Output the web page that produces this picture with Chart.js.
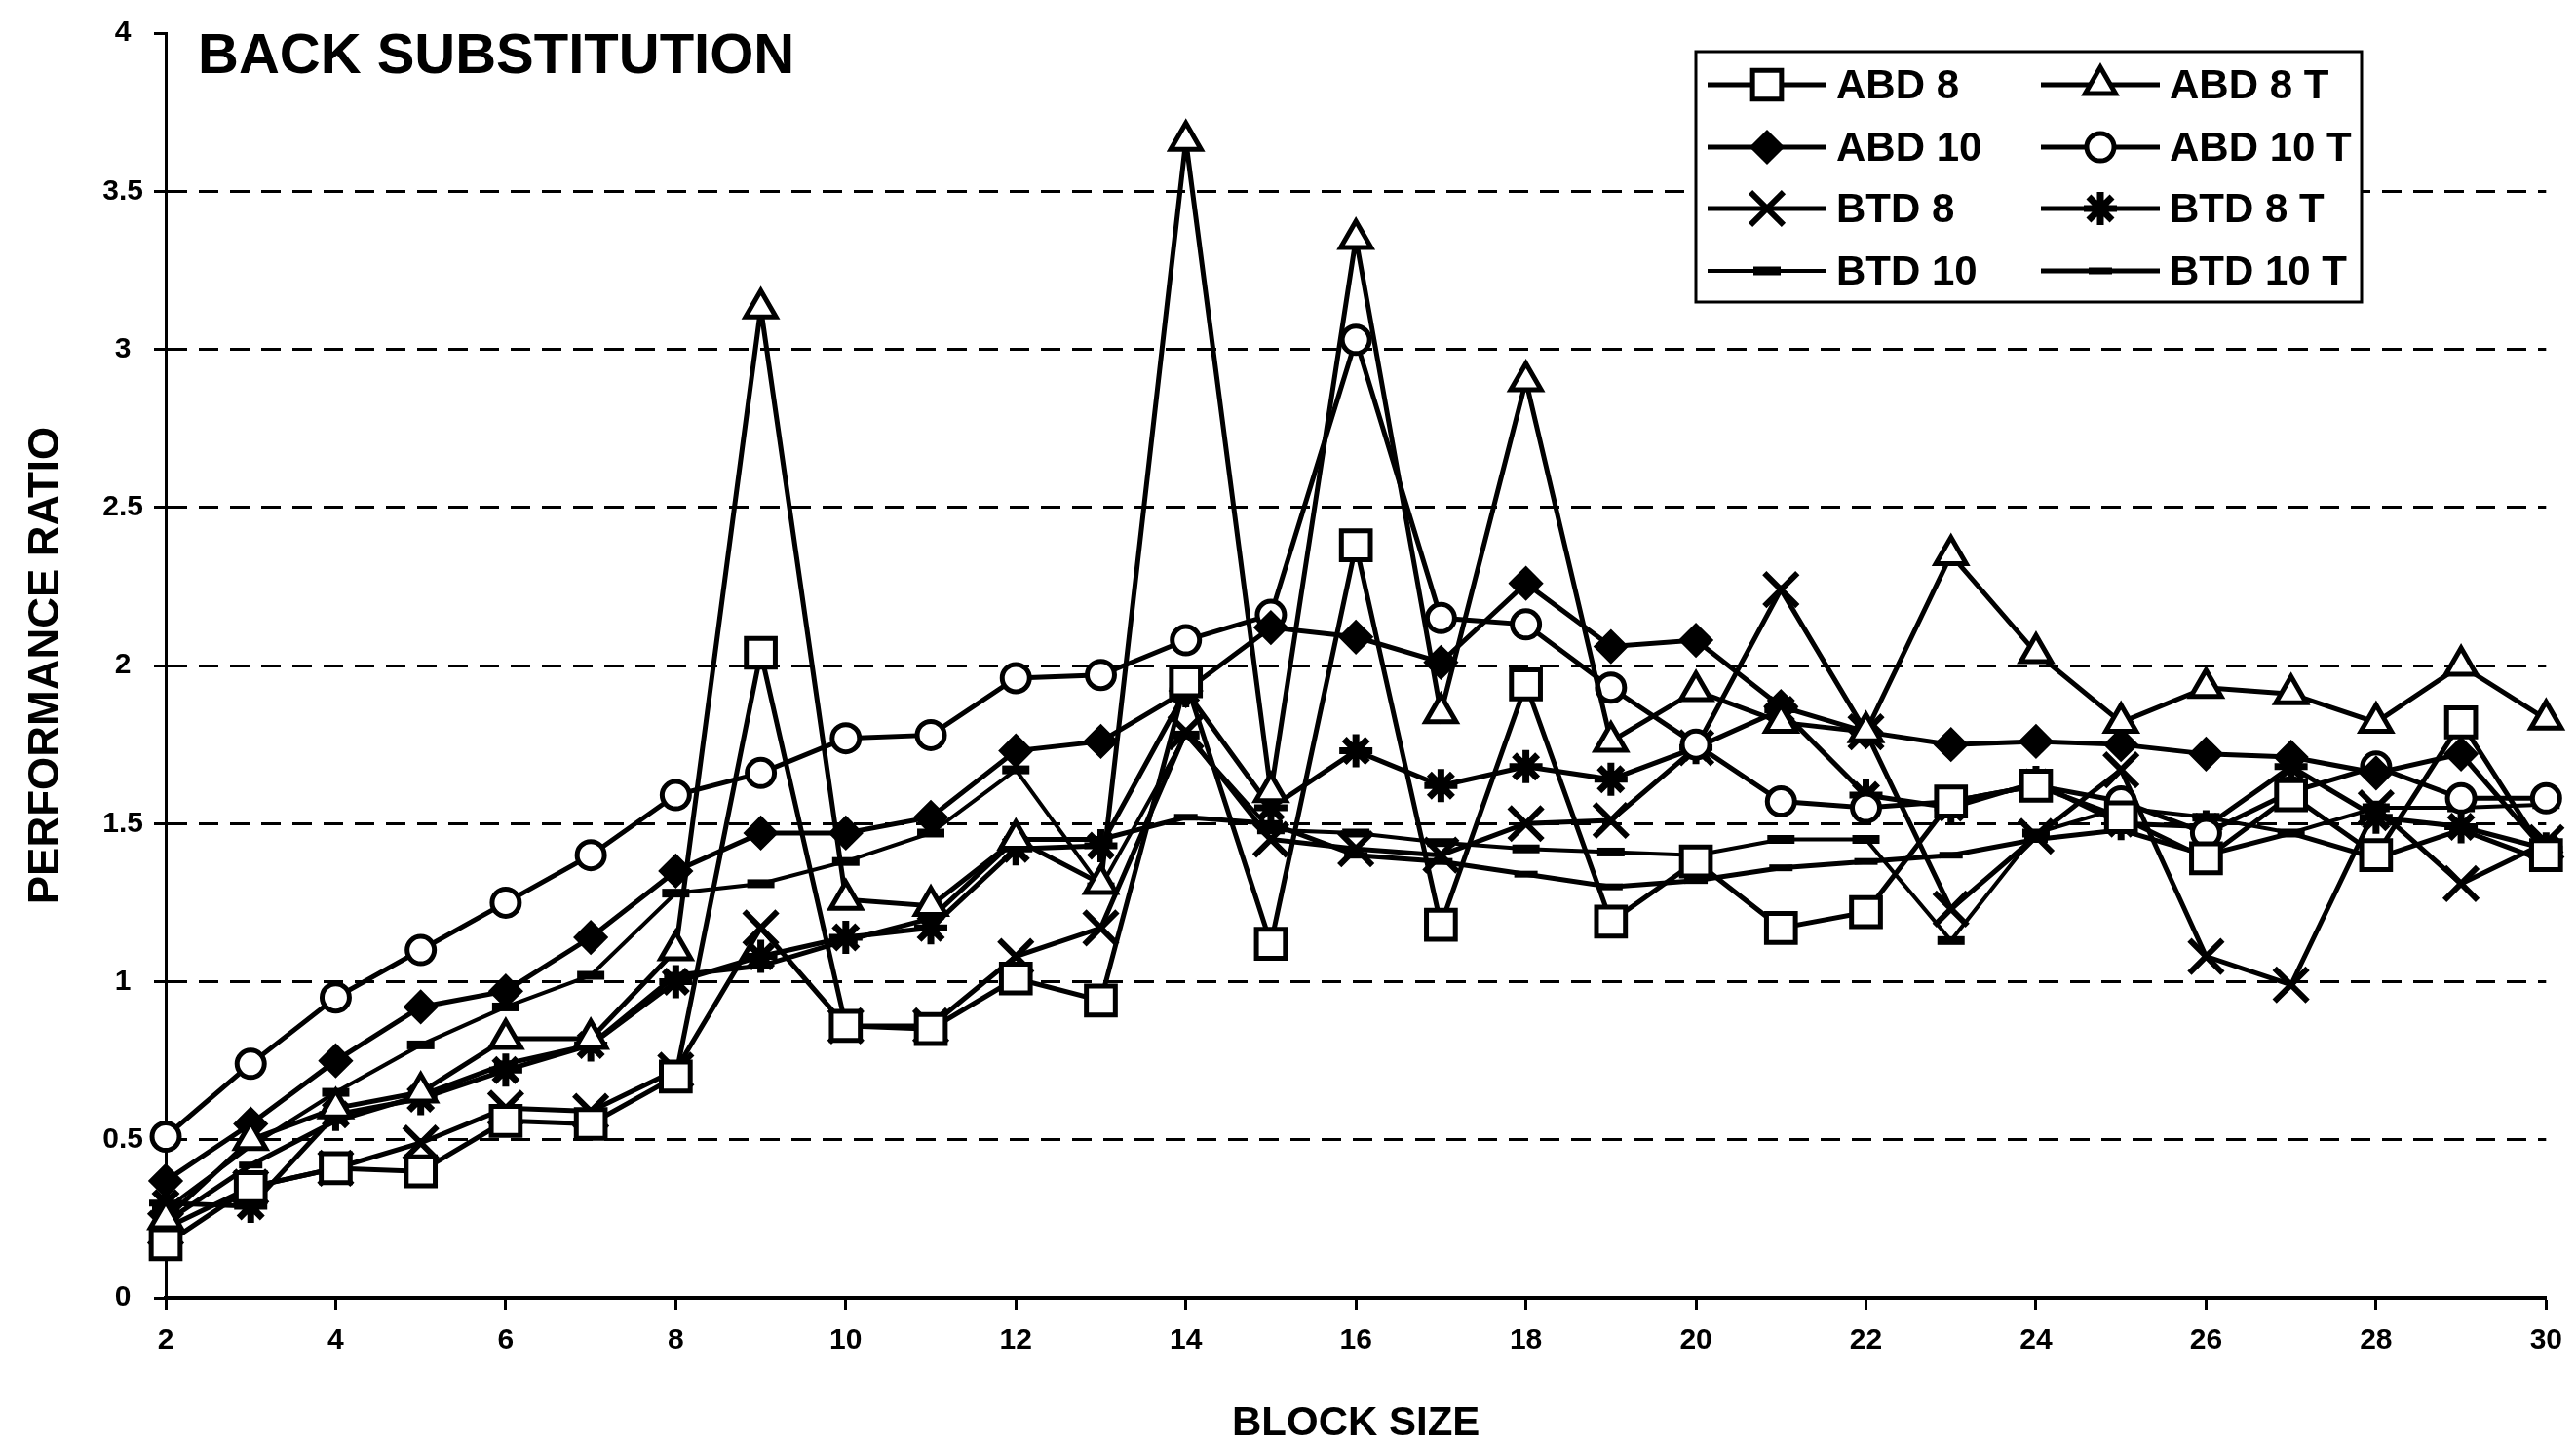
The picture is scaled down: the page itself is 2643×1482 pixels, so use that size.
<!DOCTYPE html>
<html>
<head>
<meta charset="utf-8">
<title>Back substitution</title>
<script src="https://cdn.jsdelivr.net/npm/chart.js"></script>
<style>
  html, body { margin: 0; padding: 0; background: #fff; }
  #wrap { width: 2643px; height: 1482px; }
</style>
</head>
<body>
<div id="wrap"><canvas id="perfChart" width="2643" height="1482"></canvas></div>
<script>
// DATA
const blockSizes = [2, 3, 4, 5, 6, 7, 8, 9, 10, 11, 12, 13, 14, 15, 16, 17, 18, 19, 20, 21, 22, 23, 24, 25, 26, 27, 28, 29, 30];

const abd8   = [0.17, 0.35, 0.41, 0.40, 0.56, 0.55, 0.70, 2.04, 0.86, 0.85, 1.01, 0.94, 1.95, 1.12, 2.38, 1.18, 1.94, 1.19, 1.38, 1.17, 1.22, 1.57, 1.62, 1.52, 1.39, 1.59, 1.40, 1.82, 1.40];
const abd8T  = [0.25, 0.50, 0.60, 0.65, 0.82, 0.82, 1.10, 3.13, 1.26, 1.24, 1.45, 1.31, 3.66, 1.60, 3.35, 1.85, 2.90, 1.76, 1.92, 1.82, 1.79, 2.35, 2.04, 1.82, 1.93, 1.91, 1.82, 2.00, 1.83];
const abd10  = [0.37, 0.55, 0.75, 0.92, 0.97, 1.14, 1.35, 1.47, 1.47, 1.52, 1.73, 1.76, 1.92, 2.12, 2.09, 2.01, 2.26, 2.06, 2.08, 1.87, 1.79, 1.75, 1.76, 1.75, 1.72, 1.71, 1.66, 1.72, 1.41];
const abd10T = [0.51, 0.74, 0.95, 1.10, 1.25, 1.40, 1.59, 1.66, 1.77, 1.78, 1.96, 1.97, 2.08, 2.16, 3.03, 2.15, 2.13, 1.93, 1.75, 1.57, 1.55, 1.57, 1.62, 1.57, 1.47, 1.60, 1.68, 1.58, 1.58];
const btd8   = [0.22, 0.35, 0.41, 0.49, 0.60, 0.59, 0.72, 1.17, 0.86, 0.86, 1.08, 1.17, 1.79, 1.45, 1.42, 1.40, 1.50, 1.51, 1.74, 2.24, 1.79, 1.23, 1.46, 1.67, 1.08, 0.99, 1.55, 1.31, 1.44];
const btd8T  = [0.30, 0.29, 0.58, 0.63, 0.72, 0.80, 1.00, 1.08, 1.14, 1.17, 1.42, 1.43, 1.92, 1.55, 1.73, 1.62, 1.68, 1.64, 1.74, 1.86, 1.59, 1.55, 1.63, 1.50, 1.49, 1.68, 1.52, 1.49, 1.42];
const btd10  = [0.28, 0.48, 0.65, 0.80, 0.92, 1.02, 1.28, 1.31, 1.38, 1.47, 1.67, 1.30, 1.78, 1.48, 1.47, 1.44, 1.42, 1.41, 1.40, 1.45, 1.45, 1.13, 1.47, 1.55, 1.52, 1.47, 1.55, 1.55, 1.56];
const btd10T = [0.24, 0.42, 0.56, 0.64, 0.74, 0.80, 1.02, 1.05, 1.13, 1.20, 1.45, 1.45, 1.52, 1.50, 1.40, 1.38, 1.34, 1.30, 1.32, 1.36, 1.38, 1.40, 1.45, 1.48, 1.40, 1.47, 1.39, 1.48, 1.38];

const seriesNames = ["ABD 8", "ABD 8 T", "ABD 10", "ABD 10 T", "BTD 8", "BTD 8 T", "BTD 10", "BTD 10 T"];
const seriesValues = [abd8, abd8T, abd10, abd10T, btd8, btd8T, btd10, btd10T];

// marker look per series (same order as names)
const markerStyles = [
  { pointStyle: 'rect',     radius: 21, fill: '#fff', bw: 5, lw: 5 },
  { pointStyle: 'triangle', radius: 18, fill: '#fff', bw: 5, lw: 5 },
  { pointStyle: 'rectRot',  radius: 16, fill: '#000', bw: 3, lw: 5 },
  { pointStyle: 'circle',   radius: 14, fill: '#fff', bw: 5, lw: 5 },
  { pointStyle: 'crossRot', radius: 24, fill: '#000', bw: 6, lw: 5 },
  { pointStyle: 'star',     radius: 17, fill: '#000', bw: 7, lw: 5 },
  { pointStyle: 'line',     radius: 14, fill: '#000', bw: 9, lw: 4 },
  { pointStyle: 'line',     radius: 12, fill: '#000', bw: 7, lw: 5 }
];

const FONT = "'Liberation Sans', Arial, sans-serif";
Chart.defaults.font.family = FONT;
Chart.defaults.color = '#000';

const datasets = seriesNames.map((name, i) => {
  const m = markerStyles[i];
  return {
    label: name,
    data: blockSizes.map((b, j) => ({ x: b, y: seriesValues[i][j] })),
    borderColor: '#000',
    borderWidth: m.lw,
    tension: 0,
    pointStyle: m.pointStyle,
    pointRadius: m.radius,
    pointHoverRadius: m.radius,
    pointBackgroundColor: m.fill,
    pointBorderColor: '#000',
    pointBorderWidth: m.bw,
    clip: false
  };
});

// title written inside the plot, top left
const plotTitle = {
  id: 'plotTitle',
  afterDraw(chart) {
    const ctx = chart.ctx;
    ctx.save();
    ctx.fillStyle = '#000';
    ctx.font = 'bold 58px ' + FONT;
    ctx.textBaseline = 'alphabetic';
    ctx.textAlign = 'left';
    ctx.fillText('BACK SUBSTITUTION', 203, 75);
    ctx.restore();
  }
};

// boxed two-column legend
const boxLegend = {
  id: 'boxLegend',
  afterDraw(chart) {
    const ctx = chart.ctx;
    const box = { left: 1740, top: 53, right: 2423, bottom: 310 };
    const cols = [
      { x0: 1752, x1: 1874, text: 1884 },
      { x0: 2094, x1: 2216, text: 2226 }
    ];
    const rows = [87, 151, 214, 278];
    ctx.save();
    ctx.fillStyle = '#fff';
    ctx.fillRect(box.left, box.top, box.right - box.left, box.bottom - box.top);
    ctx.lineWidth = 3;
    ctx.strokeStyle = '#000';
    ctx.strokeRect(box.left, box.top, box.right - box.left, box.bottom - box.top);

    chart.data.datasets.forEach((ds, i) => {
      const col = cols[i % 2];
      const y = rows[Math.floor(i / 2)];
      ctx.beginPath();
      ctx.lineWidth = ds.borderWidth;
      ctx.strokeStyle = '#000';
      ctx.moveTo(col.x0, y);
      ctx.lineTo(col.x1, y);
      ctx.stroke();

      ctx.fillStyle = ds.pointBackgroundColor;
      ctx.strokeStyle = ds.pointBorderColor;
      ctx.lineWidth = ds.pointBorderWidth;
      Chart.helpers.drawPoint(ctx, {
        pointStyle: ds.pointStyle,
        radius: ds.pointRadius,
        rotation: 0,
        borderWidth: ds.pointBorderWidth
      }, (col.x0 + col.x1) / 2, y);

      ctx.fillStyle = '#000';
      ctx.font = 'bold 42px ' + FONT;
      ctx.textAlign = 'left';
      ctx.textBaseline = 'middle';
      ctx.fillText(ds.label, col.text, y + 2);
    });
    ctx.restore();
  }
};

new Chart(document.getElementById('perfChart'), {
  type: 'line',
  data: { datasets: datasets },
  plugins: [plotTitle, boxLegend],
  options: {
    responsive: false,
    animation: false,
    devicePixelRatio: 1,
    layout: { padding: { left: 0, top: 34, right: 30, bottom: 0 } },
    plugins: {
      legend: { display: false },
      tooltip: { enabled: false }
    },
    scales: {
      x: {
        type: 'linear',
        min: 2,
        max: 30,
        afterFit: s => { s.height = 150; },
        ticks: {
          stepSize: 2,
          padding: 14,
          font: { size: 30, weight: 'bold' }
        },
        grid: {
          drawOnChartArea: false,
          drawTicks: true,
          tickLength: 12,
          tickWidth: 3,
          tickColor: '#000'
        },
        border: { display: true, color: '#000', width: 4 },
        title: {
          display: true,
          text: 'BLOCK SIZE',
          font: { size: 42, weight: 'bold', lineHeight: 1 },
          padding: { top: 0, bottom: 0 }
        }
      },
      y: {
        min: 0,
        max: 4,
        afterFit: s => { s.width = 170; },
        ticks: {
          stepSize: 0.5,
          padding: 11,
          crossAlign: 'center',
          font: { size: 30, weight: 'bold' },
          callback: v => String(v)
        },
        grid: {
          color: c => (c.tick && (c.tick.value === 0 || c.tick.value === 4)) ? 'rgba(0,0,0,0)' : '#000',
          lineWidth: 3,
          tickLength: 12,
          tickWidth: 3,
          tickColor: '#000',
          tickBorderDash: []
        },
        border: { display: true, color: '#000', width: 3, dash: [20, 12] },
        title: {
          display: true,
          text: 'PERFORMANCE RATIO',
          font: { size: 44, weight: 'bold', lineHeight: 1.2 },
          padding: { top: 21, bottom: 0 }
        }
      }
    }
  }
});
</script>
</body>
</html>
